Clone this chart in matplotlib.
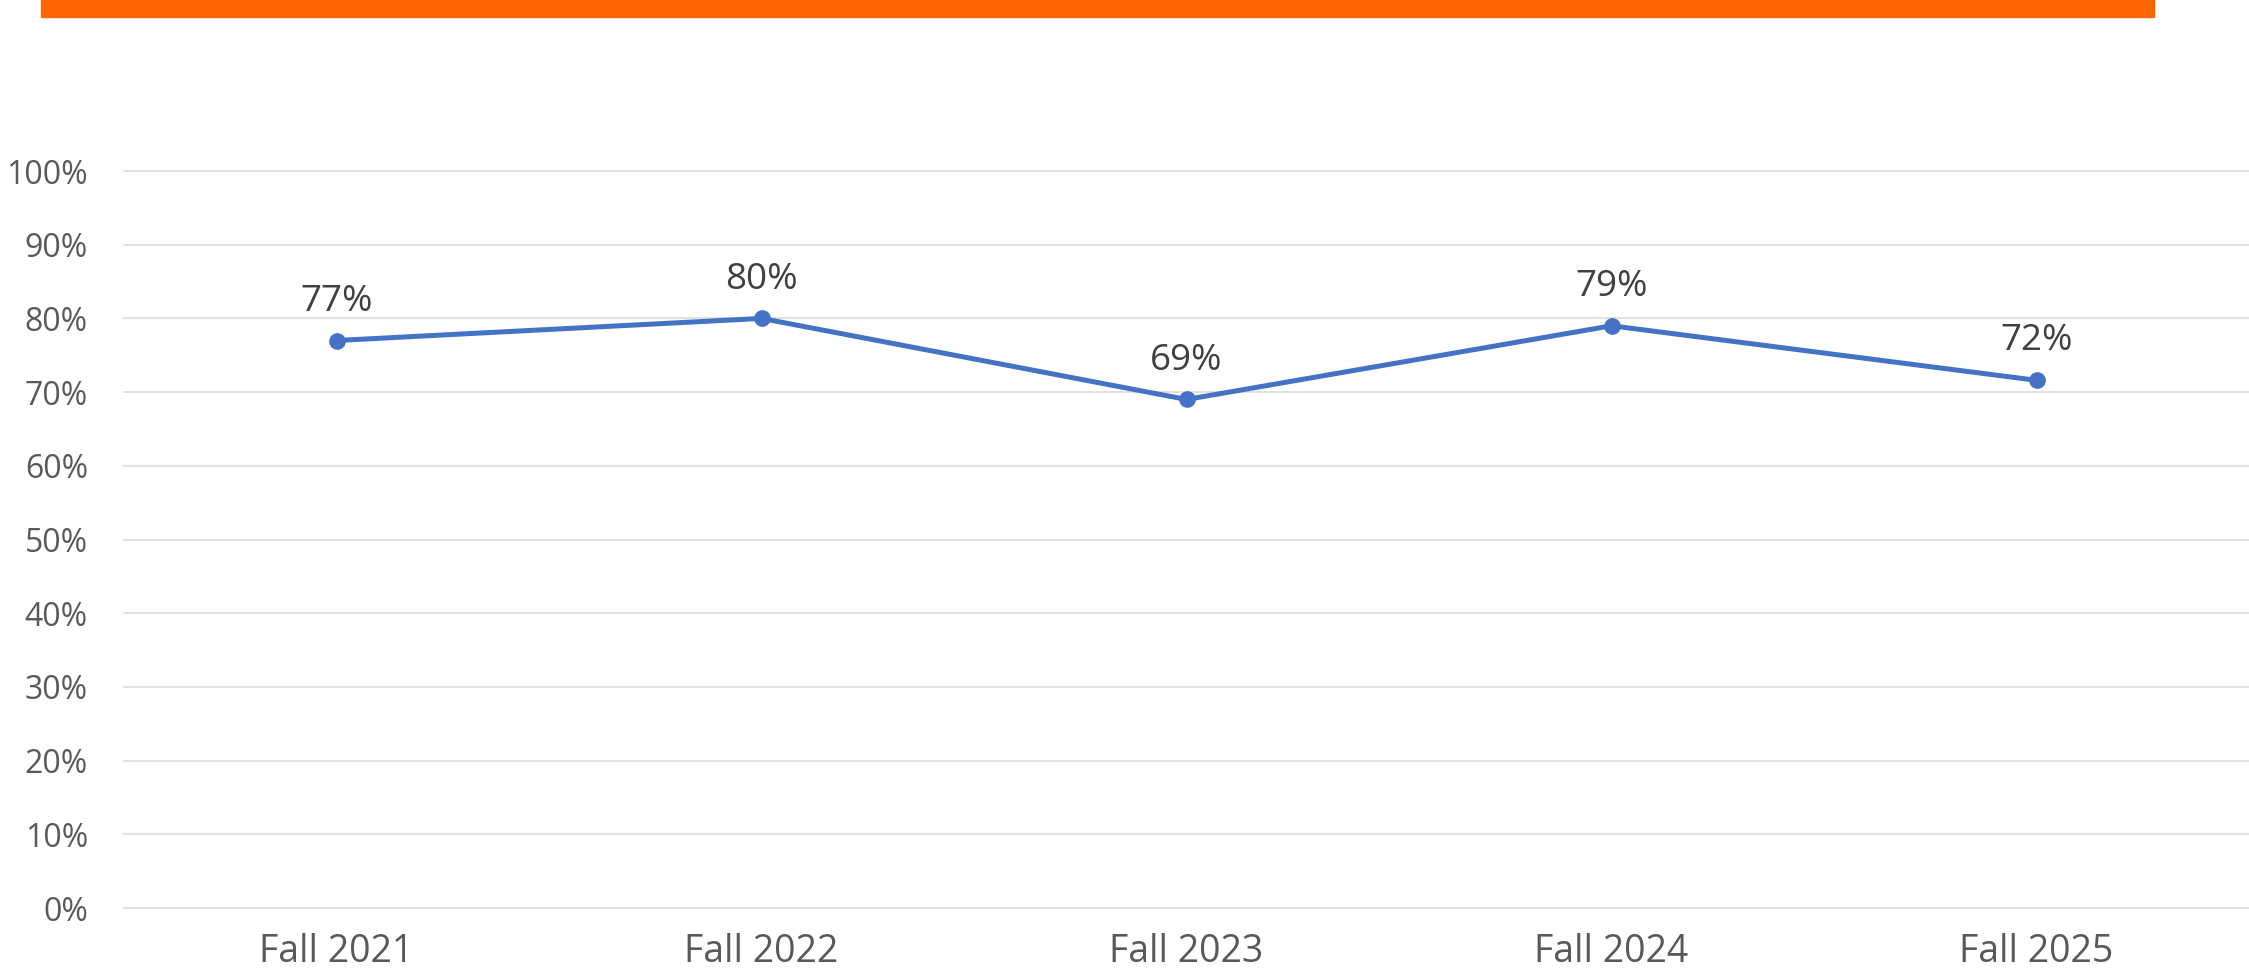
import matplotlib
matplotlib.use("Agg")
import matplotlib.pyplot as plt
from matplotlib.patches import Rectangle
from matplotlib.ticker import PercentFormatter

categories = ["Fall 2021", "Fall 2022", "Fall 2023", "Fall 2024", "Fall 2025"]
values = [0.77, 0.80, 0.69, 0.79, 0.716]
yticks = [0, 0.1, 0.2, 0.3, 0.4, 0.5, 0.6, 0.7, 0.8, 0.9, 1.0]

plt.rcParams['font.family'] = ['Open Sans', 'DejaVu Sans']

W, H = 2249, 980
fig = plt.figure(figsize=(W / 100, H / 100), dpi=100)
fig.patches.append(Rectangle((41 / W, 1 - 17 / H), (2154 - 41) / W, 17 / H,
                             transform=fig.transFigure, color="#FF6600", zorder=0))

ax = fig.add_axes([124 / W, 1 - 908 / H, 1 - 124 / W, (908 - 171) / H])
x = list(range(len(categories)))
ax.plot(x, values, color="#4472C4", lw=3.6, marker="o", markersize=11, zorder=3)
for xi, v in zip(x, values):
    ax.annotate(f"{round(v * 100):d}%", (xi, v), xytext=(0, 21.5), textcoords="offset points",
                ha="center", va="baseline", fontsize=26.5, color="#404040")

ax.set_xlim(-0.5, len(categories) - 0.5)
ax.set_ylim(0, 1)
ax.set_yticks(yticks)
ax.yaxis.set_major_formatter(PercentFormatter(1.0, decimals=0))
ax.set_xticks(x)
ax.set_xticklabels(categories)
for s in ax.spines.values():
    s.set_visible(False)
ax.tick_params(axis="y", length=0, pad=26, labelsize=23, labelcolor="#595959")
ax.tick_params(axis="x", length=0, pad=18, labelsize=27, labelcolor="#595959")
ax.grid(axis="y", color="#D9D9D9", lw=1.1)
for gl in ax.get_ygridlines():
    gl.set_clip_on(False)
ax.set_axisbelow(True)

fig.savefig("out.png", dpi=100)
